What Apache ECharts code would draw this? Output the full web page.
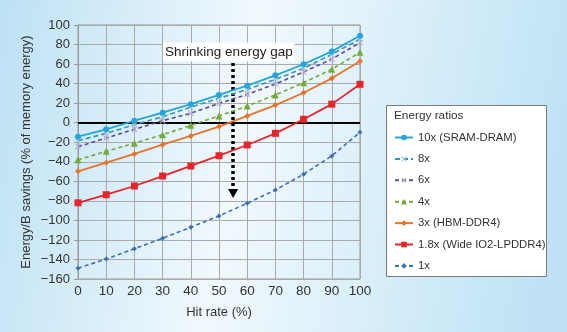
<!DOCTYPE html>
<html><head><meta charset="utf-8">
<script src="https://cdn.jsdelivr.net/npm/echarts@6/dist/echarts.min.js"></script>
<style>html,body{margin:0;padding:0;}#c{width:567px;height:332px;}</style>
</head><body><div id="c"></div>
<script>
const hitRates = [0,10,20,30,40,50,60,70,80,90,100];
const yTicks = {min:-160, max:100, interval:20};
const s10x  = [-14.3,-6.8,2,10.2,19,28.4,37.9,48.5,59.8,73,89];
const s8x   = [-18.4,-10.9,-2,6,16,25,34,44.4,55.7,70,85.5];
const s6x   = [-24.6,-15.7,-6.8,2,9.6,19.8,29,39.6,52,65,82];
const s4x   = [-38,-29.3,-21,-12.3,-2.7,6.9,17,28.4,41,54.6,72];
const s3x   = [-49.8,-40.9,-32,-22.5,-13.6,-4,6.9,18,30.7,45.4,63];
const s18x  = [-82,-73.7,-64.8,-54.6,-44.3,-33.8,-22.8,-10.9,3.5,19,39.3];
const s1x   = [-149,-139.5,-129,-118.3,-107,-95.5,-82.5,-68.9,-52.8,-34,-9.8];
const seriesNames = ['10x (SRAM-DRAM)','8x','6x','4x','3x (HBM-DDR4)','1.8x (Wide IO2-LPDDR4)','1x'];
const annotationText = 'Shrinking energy gap';
const legendTitle = 'Energy ratios';

const FONT = '"Liberation Sans", Arial, sans-serif';
const X_PATH = 'path://M0,1.4L1.4,0L5,3.6L8.6,0L10,1.4L6.4,5L10,8.6L8.6,10L5,6.4L1.4,10L0,8.6L3.6,5Z';
function pairs(arr){ return arr.map((v,i)=>[hitRates[i], v]); }
const styles = [
  {d:s10x, c:'#22a6dc', t:'solid', w:1.8, sym:'circle', sz:6},
  {d:s8x,  c:'#3596bb', t:[5,3], w:1.6, sym:X_PATH, sz:6, symColor:'#a9c9db'},
  {d:s6x,  c:'#5e4a98', t:[4,3], w:1.6, sym:X_PATH, sz:6, symColor:'#b6acd0'},
  {d:s4x,  c:'#77a83a', t:[4,3], w:1.6, sym:'triangle', sz:7},
  {d:s3x,  c:'#e8732a', t:'solid', w:1.8, sym:'diamond', sz:6},
  {d:s18x, c:'#e8242b', t:'solid', w:1.8, sym:'rect', sz:7},
  {d:s1x,  c:'#3c6fb6', t:[4,3], w:1.6, sym:'diamond', sz:5}
];
const series = styles.map((s,i)=>({
  name: seriesNames[i], type:'line', data: pairs(s.d),
  symbol: s.sym, symbolSize: s.sz, showSymbol:true,
  lineStyle:{color:s.c, width:s.w, type:s.t},
  itemStyle:{color: s.symColor || s.c},
  z: 10 - i, animation:false
}));
series.push({
  name:'_zero', type:'line', data:[], animation:false, silent:true,
  markLine:{
    silent:true, animation:false, label:{show:false}, symbol:'none',
    data:[[{coord:[0,0]},{coord:[100,0]}]],
    lineStyle:{color:'#000', width:2, type:'solid'}
  }
});
series.push({
  name:'_arrow', type:'line', data:[], animation:false, silent:true, z:20,
  markLine:{
    silent:true, animation:false, label:{show:false}, symbol:'none',
    data:[[{coord:[55,61]},{coord:[55,-70]}]],
    lineStyle:{color:'#000', width:3.5, type:[3,3]}
  },
  markPoint:{
    silent:true, animation:false,
    data:[
      {coord:[53.5,72.4], symbol:'rect', symbolSize:0,
       label:{show:true, formatter: annotationText, color:'#222', fontFamily:FONT, fontSize:13.5,
         backgroundColor:'#ffffff', padding:[3,2,2,2], position:'inside'}},
      {coord:[55,-72.5], symbol:'triangle', symbolSize:[10,9], symbolRotate:180,
       itemStyle:{color:'#000'}, label:{show:false}}
    ]
  }
});

const chart = echarts.init(document.getElementById('c'), null, {renderer:'canvas'});
chart.setOption({
  backgroundColor: {type:'linear', x:0, y:0, x2:1, y2:0.3, colorStops:[
    {offset:0, color:'#bde1f4'},{offset:0.45, color:'#f1f9fd'},{offset:1, color:'#bfe3f5'}]},
  animation:false,
  grid:{left:78, right:207, top:25, bottom:53, show:true, borderColor:'#999', borderWidth:1},
  graphic:[
    {type:'rect', shape:{x:386.5, y:105.5, width:160, height:171}, style:{fill:'#fff', stroke:'#7a7a7a', lineWidth:1}, z:0},
    {type:'text', left:394, top:110, style:{text:legendTitle, fill:'#333', font:'11.8px '+FONT}, z:1}
  ],
  legend:{
    data: seriesNames, orient:'vertical', left:389, top:126,
    itemWidth:18, itemHeight:7, itemGap:8.4,
    textStyle:{color:'#333', fontFamily:FONT, fontSize:11.3, lineHeight:13}
  },
  xAxis:{
    type:'value', min:0, max:100, interval:10,
    name:'Hit rate (%)', nameLocation:'middle', nameGap:27,
    nameTextStyle:{color:'#333', fontFamily:FONT, fontSize:13},
    axisLine:{show:true, lineStyle:{color:'#999'}},
    axisTick:{show:false},
    axisLabel:{color:'#333', fontFamily:FONT, fontSize:13.5, margin:5},
    splitLine:{show:true, lineStyle:{color:'#aaa', width:1}}
  },
  yAxis:{
    type:'value', min:yTicks.min, max:yTicks.max, interval:yTicks.interval,
    name:'Energy/B savings (% of memory energy)', nameLocation:'middle', nameGap:45,
    nameTextStyle:{color:'#333', fontFamily:FONT, fontSize:13},
    axisLine:{show:true, lineStyle:{color:'#999'}},
    axisTick:{show:true, length:4, lineStyle:{color:'#999'}},
    axisLabel:{color:'#333', fontFamily:FONT, fontSize:13, margin:8,
      formatter:v=> String(v).replace('-', '\u2212')},
    splitLine:{show:true, lineStyle:{color:'#aaa', width:1}}
  },
  series: series
});
</script></body></html>
